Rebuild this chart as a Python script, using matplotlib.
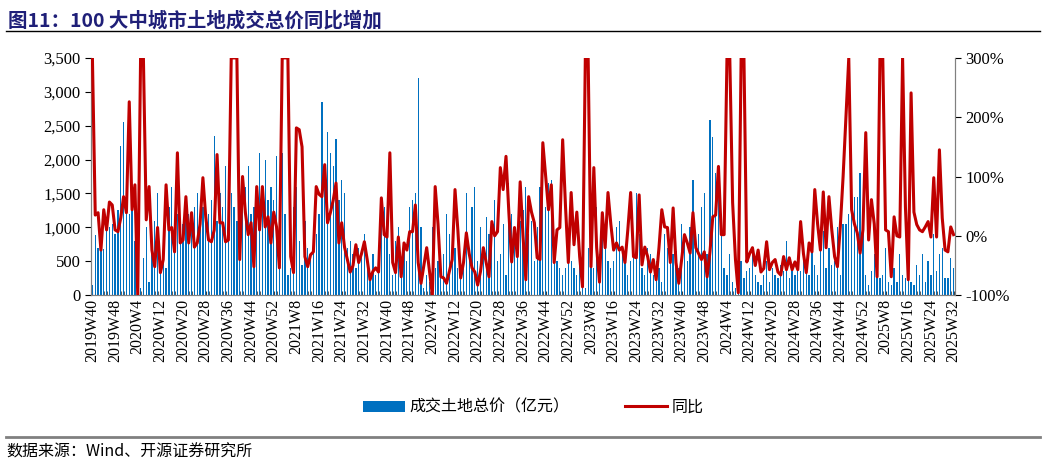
import matplotlib.pyplot as plt
import matplotlib.ticker as mticker
import numpy as np

plt.switch_backend('Agg')

CJK = 'Noto Sans CJK SC'
SERIF = 'Liberation Serif'

# weekly land transaction total (100m yuan), 2019W40 .. 2025W32
bars_2019 = [150, 880, 700, 950, 680, 1100, 1000, 1050, 900, 1250, 2200, 2550, 1300]
bars_2020 = [1200, 1400, 800, 1200, 100, 550, 1000, 200, 650, 1100, 1500, 450, 500, 400, 1300, 1600, 800, 1200,
             900, 1050, 1400, 1200, 1100, 1300, 1500, 1000, 1300, 1100, 1200, 1400, 2350, 1100, 1500, 1300, 1900,
             1200, 1500, 1300, 1100, 1500, 1700, 1600, 1900, 1200, 1300, 1100, 2100, 1300, 2000, 1400, 1600, 1400]
bars_2021 = [2050, 1500, 2100, 1200, 300, 400, 1300, 1600, 800, 450, 1100, 700, 600, 800, 900, 1200, 2850, 1600,
             2400, 2100, 1900, 2300, 1400, 1700, 1500, 700, 800, 600, 400, 700, 600, 900, 500, 300, 600, 300, 700,
             1400, 1300, 1050, 600, 300, 800, 1000, 400, 700, 500, 1300, 1400, 1500, 3200, 1000]
bars_2022 = [100, 300, 200, 1000, 400, 500, 300, 600, 1200, 900, 500, 700, 400, 300, 600, 1500, 700, 1300, 1600,
             500, 1000, 600, 1150, 900, 700, 1400, 500, 600, 1050, 300, 1650, 1200, 800, 1000, 1100, 1250, 1600,
             900, 1100, 500, 1000, 1600, 1700, 1300, 1650, 1700, 700, 500, 400, 300, 400, 700]
bars_2023 = [500, 400, 300, 600, 1000, 100, 700, 550, 400, 1300, 600, 1200, 900, 500, 400, 500, 1000, 1100, 700,
             600, 300, 500, 700, 1500, 900, 400, 300, 700, 600, 300, 500, 400, 200, 900, 700, 700, 600, 650, 400,
             1050, 800, 500, 1000, 1700, 800, 900, 1300, 1500, 600, 2580, 2330, 1800]
bars_2024 = [1580, 900, 400, 300, 600, 200, 100, 400, 500, 250, 350, 400, 600, 300, 200, 150, 300, 500, 200, 400,
             300, 250, 450, 350, 800, 250, 400, 300, 500, 350, 550, 400, 300, 650, 450, 300, 700, 950, 400, 700,
             450, 500, 1000, 300, 1050, 1050, 1200, 1200, 1450, 1450, 1800, 1050]
bars_2025 = [300, 150, 350, 600, 450, 250, 300, 700, 200, 150, 400, 200, 600, 300, 250, 500, 200, 150, 450, 300,
             600, 200, 500, 300, 900, 350, 600, 700, 250, 250, 550, 400]

# year-on-year change (%), same weeks
yoy_2019 = [300, 35, 39, -24, 44, 10, 57, 52, 10, 7, 30, 66, 39]
yoy_2020 = [226, 44, 86, -100, 300, 300, 27, 83, -24, -52, 14, -62, -40, 86, 10, 14, -27, 140, -12, -7, 66, -12,
            39, -19, -12, 20, 98, 32, -7, -10, 10, 137, 22, 22, -10, -7, 300, 300, 300, -40, 100, 39, 2, 22, -52,
            83, 10, 83, 15, 32, -12, 40]
yoy_2021 = [15, -54, 300, 300, 300, -35, -62, 182, 179, 150, -35, -52, -32, -27, 83, 70, 66, 120, 22, 39, 60, 89,
            -12, 22, -19, -40, -61, -50, -15, -45, -30, -10, -40, -74, -60, -54, -61, 64, 2, -2, 140, -45, -62, -2,
            -69, -12, -24, 7, 7, 52, -45, -80]
yoy_2022 = [-50, -20, -60, -100, 83, 20, -69, -71, -80, -60, -40, 78, 10, -71, -45, 5, -30, -54, -61, -83, -60,
            -20, -45, -69, 24, 0, 7, 115, 78, 134, 40, -44, 14, -35, 91, 0, -74, 66, 40, 22, -37, -40, 157, 100,
            44, 86, -45, 10, 14, 162, 50, -45]
yoy_2023 = [73, -15, 40, -35, -86, 300, 300, -52, 115, -20, -78, 39, -20, 73, 20, -24, -12, -24, -19, -45, 10, 73,
            -35, -37, 69, -49, -19, -35, -61, -40, -74, -20, 44, 15, 14, -45, 47, -45, -80, -40, 2, -12, -29, 39,
            -20, -30, -40, -27, -69, -27, 32, 35]
yoy_2024 = [117, 2, 2, 300, 300, 56, -40, -96, 300, 300, -44, -30, -20, -50, -24, -61, -55, -10, -57, -45, -40,
            -61, -66, -35, -57, -37, -57, -44, -57, 24, -30, -62, -12, -27, 78, 20, -24, 74, -20, 66, 10, -35, -52,
            15, 100, 200, 300, 44, 20, 5, -29, 10]
yoy_2025 = [174, -7, 61, 20, -69, 300, 300, 10, 7, -69, 32, 0, -2, 300, 49, -74, 241, 40, 19, 10, 7, 15, 24, -2,
            98, -2, 145, 30, -24, -27, 15, 2]

weeks = ([f'2019W{w}' for w in range(40, 53)]
         + [f'{y}W{w}' for y in range(2020, 2025) for w in range(1, 53)]
         + [f'2025W{w}' for w in range(1, 33)])

bars = bars_2019 + bars_2020 + bars_2021 + bars_2022 + bars_2023 + bars_2024 + bars_2025
yoy = yoy_2019 + yoy_2020 + yoy_2021 + yoy_2022 + yoy_2023 + yoy_2024 + yoy_2025

x = np.arange(len(weeks))

fig = plt.figure(figsize=(10.46, 4.67), dpi=100)
ax = fig.add_axes([0.087, 0.368, 0.826, 0.508])
ax2 = ax.twinx()

ax.bar(x, bars, width=0.45, color='#0070C0', label='成交土地总价（亿元）', zorder=2)
ax2.plot(x, yoy, color='#C00000', linewidth=2.2, label='同比', zorder=3)

ax.set_xlim(-0.5, len(weeks) - 0.5)
ax.set_ylim(0, 3500)
ax.yaxis.set_major_locator(mticker.MultipleLocator(500))
ax.yaxis.set_major_formatter(mticker.FuncFormatter(lambda v, p: f'{int(v):,}'))
ax2.set_ylim(-100, 300)
ax2.yaxis.set_major_locator(mticker.MultipleLocator(100))
ax2.yaxis.set_major_formatter(mticker.FuncFormatter(lambda v, p: f'{int(v)}%'))

# labelled ticks every 8 weeks, small ticks every week
ax.set_xticks(x[::8])
ax.set_xticklabels(weeks[::8], rotation=90, fontfamily=SERIF, fontsize=11.5)
ax.set_xticks(x, minor=True)
ax.tick_params(axis='x', which='both', length=3, direction='in', color='#404040', pad=3)

for a in (ax, ax2):
    a.tick_params(axis='y', direction='out', length=4, labelsize=12)
    for lab in a.get_yticklabels():
        lab.set_fontfamily(SERIF)
    for s in a.spines.values():
        s.set_color('#808080')
    a.spines['top'].set_visible(False)

# title and rules
fig.text(0.008, 0.955, '图11：100 大中城市土地成交总价同比增加', fontfamily=CJK, fontweight='bold',
         fontsize=14, color='#1F1F78', va='center')
fig.add_artist(plt.Line2D([0.006, 0.994], [0.933, 0.933], color='black', linewidth=1))
fig.add_artist(plt.Line2D([0.006, 0.994], [0.064, 0.064], color='#808080', linewidth=2))
fig.text(0.006, 0.032, '数据来源：Wind、开源证券研究所', fontfamily=CJK, fontsize=11.5, va='center')

h1, l1 = ax.get_legend_handles_labels()
h2, l2 = ax2.get_legend_handles_labels()
fig.legend(h1 + h2, l1 + l2, loc='center', bbox_to_anchor=(0.51, 0.128), ncol=2, frameon=False,
           prop={'family': CJK, 'size': 11.5}, handlelength=2.6, columnspacing=3.5, handletextpad=0.3)

fig.savefig('out.png', dpi=100, facecolor='white')
